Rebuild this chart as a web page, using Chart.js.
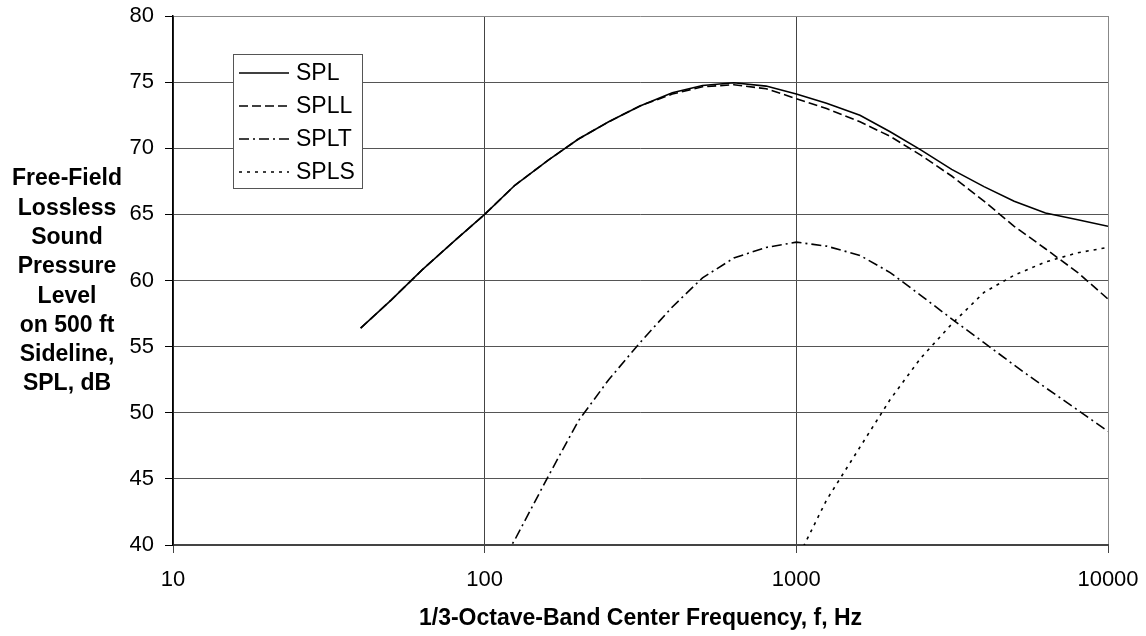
<!DOCTYPE html>
<html>
<head>
<meta charset="utf-8">
<script src="https://cdn.jsdelivr.net/npm/chart.js@4.4.1/dist/chart.umd.min.js"></script>
<style>
  html, body { margin: 0; padding: 0; background: #fff; }
  #wrap { width: 1146px; height: 636px; }
</style>
</head>
<body>
<div id="wrap"><canvas id="spl"></canvas></div>
<script>
// 1/3 octave band centre frequencies, Hz
const frecuencias = [40, 50, 63, 80, 100, 125, 160, 200, 250, 315, 400, 500, 630, 800, 1000, 1250, 1600, 2000, 2500, 3150, 4000, 5000, 6300, 8000, 10000];
// series, dB (null = no point)
const spl  = [56.4, 58.5, 60.8, 63.0, 65.0, 67.2, 69.1, 70.7, 72.0, 73.2, 74.2, 74.75, 74.95, 74.7, 74.1, 73.4, 72.5, 71.25, 69.9, 68.4, 67.1, 66.0, 65.1, 64.6, 64.1];
const spll = [56.4, 58.5, 60.8, 63.0, 65.0, 67.2, 69.1, 70.7, 72.0, 73.2, 74.1, 74.65, 74.8, 74.5, 73.75, 73.0, 72.0, 70.9, 69.5, 67.9, 66.0, 64.1, 62.4, 60.6, 58.6];
const splt = [null, null, null, null, 36.6, 40.4, 45.2, 49.4, 52.5, 55.3, 58.0, 60.2, 61.7, 62.5, 62.9, 62.6, 61.9, 60.6, 58.9, 57.1, 55.3, 53.6, 51.9, 50.2, 48.6];
const spls = [null, null, null, null, null, null, null, null, null, null, null, null, null, null, 38.8, 43.4, 47.4, 51.0, 54.1, 56.7, 59.1, 60.4, 61.4, 62.1, 62.5];
const nombres = ["SPL", "SPLL", "SPLT", "SPLS"];
// ticks
const ticksX = [10, 100, 1000, 10000];
const ticksY = [40, 45, 50, 55, 60, 65, 70, 75, 80];
const tituloX = "1/3-Octave-Band Center Frequency, f, Hz";
const tituloY = ["Free-Field", "Lossless", "Sound", "Pressure", "Level", "on 500 ft", "Sideline,", "SPL, dB"];

const fuente = "'Liberation Sans', Arial, sans-serif";
const trazos = [[], [9, 4], [10, 4, 2, 4], [3, 5]];

function puntos(valores) {
    return frecuencias.map((f, i) => ({ x: f, y: valores[i] }));
}

// multi-line horizontal y title + legend box inside the plot
const extras = {
    id: "extras",
    afterDraw(chart) {
        const ctx = chart.ctx;
        ctx.save();
        ctx.fillStyle = "#000";
        ctx.font = "bold 23px " + fuente;
        ctx.textAlign = "center";
        ctx.textBaseline = "middle";
        tituloY.forEach((t, i) => ctx.fillText(t, 67, 179 + i * 29.3));

        // legend
        ctx.fillStyle = "#fff";
        ctx.fillRect(233, 54, 129, 134);
        ctx.strokeStyle = "#555";
        ctx.lineWidth = 1;
        ctx.strokeRect(233.5, 54.5, 129, 134);
        ctx.font = "23px " + fuente;
        ctx.textAlign = "left";
        chart.data.datasets.forEach((ds, i) => {
            const y = 73 + i * 33;
            ctx.strokeStyle = "#000";
            ctx.lineWidth = 1.6;
            ctx.setLineDash(ds.borderDash);
            ctx.beginPath();
            ctx.moveTo(239, y);
            ctx.lineTo(289, y);
            ctx.stroke();
            ctx.setLineDash([]);
            ctx.fillStyle = "#000";
            ctx.fillText(ds.label, 296, y + 1);
        });
        ctx.restore();
    }
};

new Chart(document.getElementById("spl").getContext("2d"), {
    type: "line",
    data: {
        datasets: [spl, spll, splt, spls].map((v, i) => ({
            label: nombres[i],
            data: puntos(v),
            borderColor: "#000",
            borderWidth: 1.6,
            borderDash: trazos[i],
            pointRadius: 0,
            tension: 0,
            spanGaps: false,
            fill: false
        }))
    },
    options: {
        responsive: true,
        maintainAspectRatio: false,
        animation: false,
        events: [],
        layout: { padding: { left: 0, top: 16, right: 38, bottom: 0 } },
        plugins: {
            legend: { display: false },
            tooltip: { enabled: false }
        },
        scales: {
            x: {
                type: "logarithmic",
                min: 10,
                max: 10000,
                afterBuildTicks: (s) => { s.ticks = ticksX.map((v) => ({ value: v })); },
                afterFit: (s) => { s.height = 91; s.paddingLeft = 0; s.paddingRight = 0; },
                ticks: {
                    callback: (v) => String(v),
                    color: "#000",
                    font: { family: fuente, size: 22 },
                    padding: 14,
                    maxRotation: 0,
                    autoSkip: false
                },
                grid: {
                    color: (c) => (c.tick && c.tick.value === 10000 ? "#888" : "#444"),
                    lineWidth: 1,
                    tickLength: 8,
                    tickColor: "#444"
                },
                border: { color: "#444", width: 2 },
                title: {
                    display: true,
                    text: tituloX,
                    color: "#000",
                    font: { family: fuente, size: 23, weight: "bold" },
                    padding: { top: 0, bottom: 4 }
                }
            },
            y: {
                min: 40,
                max: 80,
                afterBuildTicks: (s) => { s.ticks = ticksY.map((v) => ({ value: v })); },
                afterFit: (s) => { s.width = 173; s.paddingTop = 0; s.paddingBottom = 0; },
                ticks: {
                    color: "#000",
                    font: { family: fuente, size: 22 },
                    padding: 11
                },
                grid: {
                    color: (c) => (c.tick && c.tick.value === 80 ? "#888" : "#555"),
                    lineWidth: 1,
                    tickLength: 8,
                    tickColor: "#000"
                },
                border: { color: "#000", width: 1.5 }
            }
        }
    },
    plugins: [extras]
});
</script>
</body>
</html>
